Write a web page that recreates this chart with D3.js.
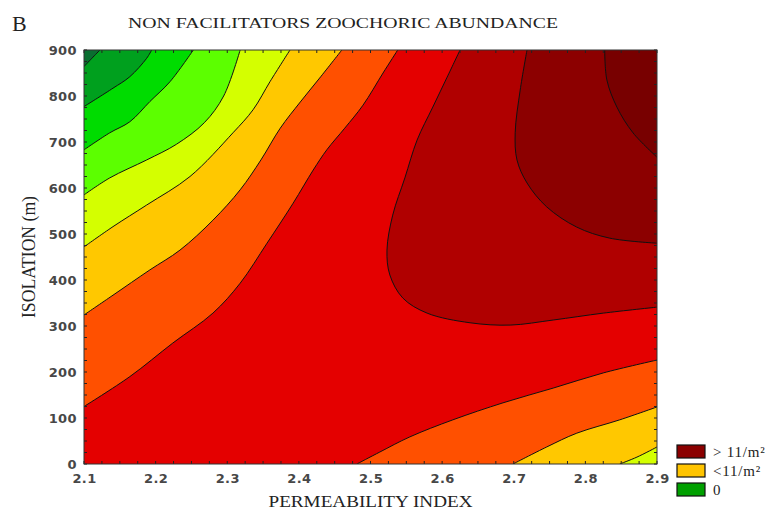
<!DOCTYPE html>
<html>
<head>
<meta charset="utf-8">
<script src="https://cdn.jsdelivr.net/npm/d3@7"></script>
<style>
  body { margin: 0; background: #fff; }
  svg { display: block; }
</style>
</head>
<body>
<div id="chart"></div>
<script>
// axis ticks
const xTicks = [2.1, 2.2, 2.3, 2.4, 2.5, 2.6, 2.7, 2.8, 2.9];
const yTicks = [0, 100, 200, 300, 400, 500, 600, 700, 800, 900];

// contour boundaries, [permeability, isolation]
// top-left bands: start on left edge, end on top edge
const edgeDarkestGreen = [[2.10, 864], [2.111, 882], [2.1223, 900]];
const edgeDarkGreen = [[2.10, 777], [2.1405, 817], [2.164, 842], [2.1875, 882], [2.1945, 900]];
const edgeGreen = [[2.10, 683], [2.136, 720], [2.164, 744], [2.192, 788], [2.220, 831], [2.2526, 900]];
const edgeLightGreen = [[2.10, 585], [2.136, 622], [2.1875, 661], [2.229, 695], [2.268, 742], [2.295, 800], [2.318, 900]];
const edgeYellowGreen = [[2.10, 472], [2.1405, 516], [2.1875, 563], [2.248, 625], [2.308, 720], [2.336, 770], [2.360, 832], [2.3876, 900]];
const edgeGold = [[2.10, 324], [2.1405, 367], [2.192, 422], [2.234, 465], [2.280, 530], [2.318, 596], [2.347, 661],
  [2.374, 730], [2.402, 787], [2.429, 839], [2.460, 900]];
const edgeOrange = [[2.10, 125], [2.164, 190], [2.224, 263], [2.280, 328], [2.318, 393], [2.3555, 480], [2.392, 567],
  [2.420, 639], [2.439, 683], [2.464, 730], [2.4895, 780], [2.5175, 850], [2.538, 900]];

// upper-right bands: start on top edge, end on right edge
const edgeDarkRed1 = [[2.625, 900], [2.607, 841], [2.587, 776], [2.565, 704], [2.548, 622], [2.531, 541], [2.523, 465],
  [2.527, 411], [2.545, 361], [2.579, 328], [2.639, 307], [2.695, 302], [2.755, 313], [2.825, 328], [2.9, 341]];
const edgeDarkRed2 = [[2.7185, 900], [2.709, 813], [2.702, 720], [2.7045, 661], [2.7185, 611], [2.746, 559],
  [2.788, 515], [2.834, 491], [2.9, 480]];
const edgeDarkRed3 = [[2.827, 900], [2.830, 835], [2.844, 776], [2.8665, 720], [2.9, 667]];

// lower-right bands: start on bottom edge, end on right edge
const edgeLowOrange = [[2.481, 0], [2.513, 26], [2.555, 59], [2.615, 96], [2.685, 133], [2.755, 165], [2.825, 198], [2.9, 226]];
const edgeLowGold = [[2.699, 0], [2.746, 37], [2.788, 67], [2.848, 96], [2.9, 124]];
const edgeLowYellowGreen = [[2.848, 0], [2.872, 15], [2.9, 37]];

const legendLabels = ["> 11/m\u00b2", "<11/m\u00b2", "0"];
const legendColors = ["#8b0000", "#ffc400", "#00a000"];

const W = 771, H = 512;
const margin = { top: 50, right: 114, bottom: 48, left: 84 };
const width = W - margin.left - margin.right;
const height = H - margin.top - margin.bottom;

const svg = d3.select("#chart").append("svg")
    .attr("width", W)
    .attr("height", H);

const g = svg.append("g")
    .attr("transform", `translate(${margin.left},${margin.top})`);

const x = d3.scaleLinear().domain([2.1, 2.9]).range([0, width]);
const y = d3.scaleLinear().domain([0, 900]).range([height, 0]);

g.append("clipPath").attr("id", "plotclip")
  .append("rect").attr("width", width).attr("height", height);

const plot = g.append("g").attr("clip-path", "url(#plotclip)");

// base colour: the wide red band
plot.append("rect")
    .attr("width", width)
    .attr("height", height)
    .attr("fill", "#e40000");

const line = d3.line()
    .x(d => x(d[0]))
    .y(d => y(d[1]))
    .curve(d3.curveCatmullRom.alpha(0.5));

function bandPath(pts, corner) {
    return line(pts) + "L" + x(corner[0]) + "," + y(corner[1]) + "Z";
}

const layers = [
    { pts: edgeOrange, corner: [2.1, 900], color: "#ff5000" },
    { pts: edgeGold, corner: [2.1, 900], color: "#ffc800" },
    { pts: edgeYellowGreen, corner: [2.1, 900], color: "#d4ff00" },
    { pts: edgeLightGreen, corner: [2.1, 900], color: "#5cff00" },
    { pts: edgeGreen, corner: [2.1, 900], color: "#00dc00" },
    { pts: edgeDarkGreen, corner: [2.1, 900], color: "#00a01e" },
    { pts: edgeDarkestGreen, corner: [2.1, 900], color: "#0a6e30" },
    { pts: edgeDarkRed1, corner: [2.9, 900], color: "#b00000" },
    { pts: edgeDarkRed2, corner: [2.9, 900], color: "#8c0000" },
    { pts: edgeDarkRed3, corner: [2.9, 900], color: "#780000" },
    { pts: edgeLowOrange, corner: [2.9, 0], color: "#ff5000" },
    { pts: edgeLowGold, corner: [2.9, 0], color: "#ffc800" },
    { pts: edgeLowYellowGreen, corner: [2.9, 0], color: "#d4ff00" }
];

plot.selectAll("path.band")
    .data(layers)
  .enter().append("path")
    .attr("class", "band")
    .attr("d", d => bandPath(d.pts, d.corner))
    .attr("fill", d => d.color);

plot.selectAll("path.iso")
    .data(layers)
  .enter().append("path")
    .attr("class", "iso")
    .attr("d", d => line(d.pts))
    .attr("fill", "none")
    .attr("stroke", "#111")
    .attr("stroke-width", 1);

// inward tick marks on every side
const xMinor = d3.range(2.1, 2.9001, 0.025);
const yMinor = d3.range(0, 900.1, 25);
function tickMarks(sel, values, fn) {
    sel.selectAll(null).data(values).enter().append("line")
        .each(function(d) { fn(d3.select(this), d); })
        .attr("stroke", "#222")
        .attr("stroke-width", 1);
}
const ticksG = g.append("g");
tickMarks(ticksG, xMinor, (s, d) => s.attr("x1", x(d)).attr("x2", x(d)).attr("y1", height).attr("y2", height - 3));
tickMarks(ticksG, xMinor, (s, d) => s.attr("x1", x(d)).attr("x2", x(d)).attr("y1", 0).attr("y2", 3));
tickMarks(ticksG, yMinor, (s, d) => s.attr("x1", 0).attr("x2", 3).attr("y1", y(d)).attr("y2", y(d)));
tickMarks(ticksG, yMinor, (s, d) => s.attr("x1", width).attr("x2", width - 3).attr("y1", y(d)).attr("y2", y(d)));

g.append("rect")
    .attr("width", width)
    .attr("height", height)
    .attr("fill", "none")
    .attr("stroke", "#333")
    .attr("stroke-width", 1);

const xAxis = g.append("g")
    .attr("transform", "translate(0," + height + ")")
    .call(d3.axisBottom(x).tickValues(xTicks).tickFormat(d3.format(".1f")).tickSize(0).tickPadding(10));
const yAxis = g.append("g")
    .call(d3.axisLeft(y).tickValues(yTicks).tickSize(0).tickPadding(7));
[xAxis, yAxis].forEach(a => {
    a.select(".domain").remove();
    a.selectAll("text")
        .style("font-family", "'DejaVu Sans', sans-serif")
        .style("font-weight", "bold")
        .style("font-size", "13px")
        .style("letter-spacing", "0.4px")
        .attr("fill", "#474747");
});

// axis titles
svg.append("text")
    .attr("x", margin.left + width / 2)
    .attr("y", 507)
    .attr("text-anchor", "middle")
    .attr("textLength", 204)
    .attr("lengthAdjust", "spacingAndGlyphs")
    .style("font-family", "'Liberation Serif', serif")
    .style("font-size", "17px")
    .attr("fill", "#222")
    .text("PERMEABILITY INDEX");

svg.append("text")
    .attr("transform", `translate(35,${margin.top + height / 2}) rotate(-90)`)
    .attr("text-anchor", "middle")
    .attr("textLength", 122)
    .attr("lengthAdjust", "spacingAndGlyphs")
    .style("font-family", "'Liberation Serif', serif")
    .style("font-size", "18px")
    .attr("fill", "#222")
    .text("ISOLATION (m)");

svg.append("text")
    .attr("x", 128)
    .attr("y", 28)
    .attr("textLength", 430)
    .attr("lengthAdjust", "spacingAndGlyphs")
    .style("font-family", "'Liberation Serif', serif")
    .style("font-size", "15px")
    .attr("fill", "#222")
    .text("NON FACILITATORS ZOOCHORIC ABUNDANCE");

svg.append("text")
    .attr("x", 12)
    .attr("y", 31)
    .style("font-family", "'Liberation Serif', serif")
    .style("font-size", "22px")
    .attr("fill", "#222")
    .text("B");

// legend
const legend = svg.append("g").attr("transform", "translate(677,445)");
legend.selectAll("rect")
    .data(legendColors)
  .enter().append("rect")
    .attr("x", 0)
    .attr("y", (d, i) => i * 19)
    .attr("width", 28)
    .attr("height", 13)
    .attr("fill", d => d)
    .attr("stroke", "#111")
    .attr("stroke-width", 1.2);
legend.selectAll("text")
    .data(legendLabels)
  .enter().append("text")
    .attr("x", 36)
    .attr("y", (d, i) => i * 19 + 12)
    .style("font-family", "'Liberation Serif', serif")
    .style("font-size", "15px")
    .style("letter-spacing", "0.8px")
    .attr("fill", "#222")
    .text(d => d);
</script>
</body>
</html>
